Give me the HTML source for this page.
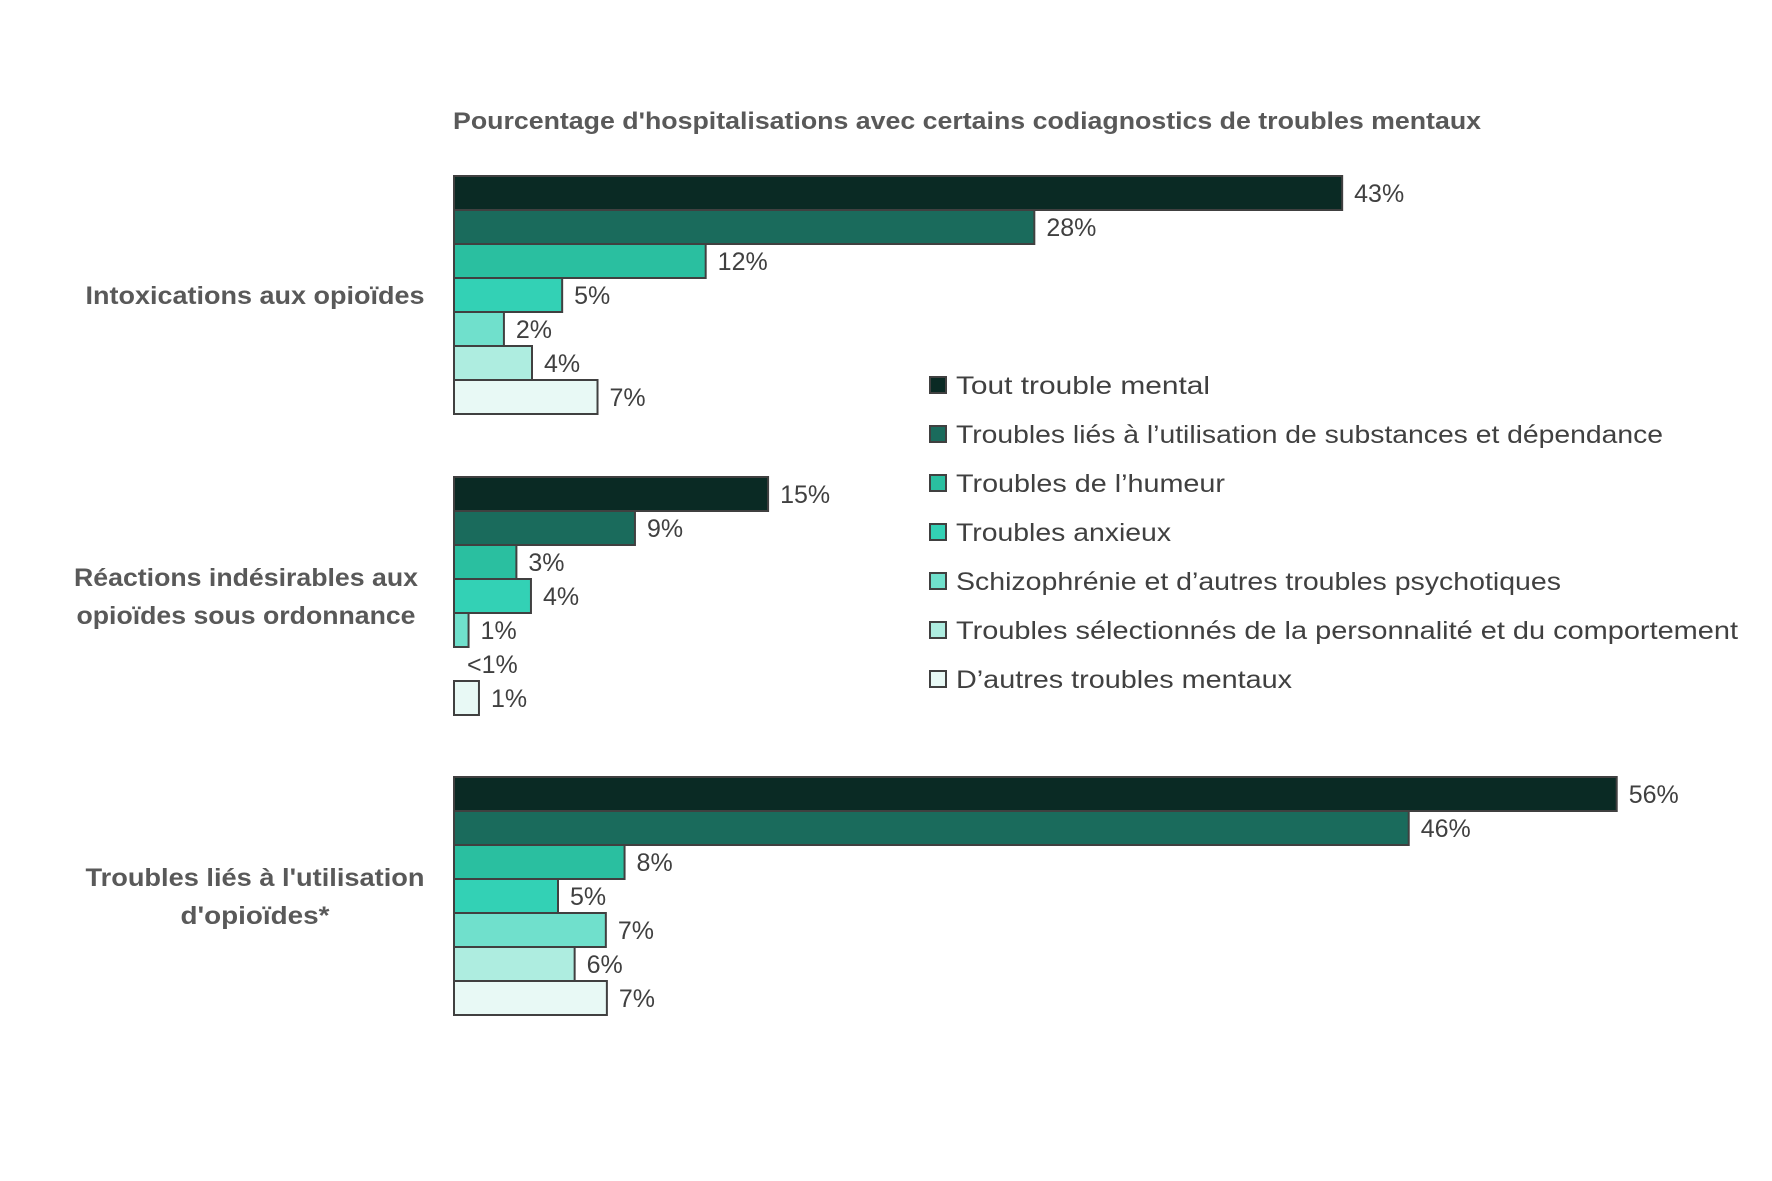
<!DOCTYPE html>
<html><head><meta charset="utf-8"><style>
body{margin:0;background:#fff}
svg{display:block;font-family:"Liberation Sans",sans-serif}
</style></head><body>
<svg id="chart" width="1772" height="1181" viewBox="0 0 1772 1181" xmlns="http://www.w3.org/2000/svg">
<rect width="1772" height="1181" fill="#fff"/>
<text x="453" y="129" font-size="24" font-weight="bold" fill="#595959" textLength="1028" lengthAdjust="spacingAndGlyphs">Pourcentage d'hospitalisations avec certains codiagnostics de troubles mentaux</text>
<g id="bars"></g>
<g id="cats"></g>
<g id="legend"></g>
</svg>
<script>
const categories = ["Intoxications aux opioïdes","Réactions indésirables aux opioïdes sous ordonnance","Troubles liés à l'utilisation d'opioïdes*"];
const seriesNames = ["Tout trouble mental","Troubles liés à l’utilisation de substances et dépendance","Troubles de l’humeur","Troubles anxieux","Schizophrénie et d’autres troubles psychotiques","Troubles sélectionnés de la personnalité et du comportement","D’autres troubles mentaux"];
const valuesIntox = [42.7, 27.9, 12.1, 5.2, 2.4, 3.75, 6.9];
const valuesReact = [15.1, 8.7, 3.0, 3.7, 0.7, 0, 1.2];
const valuesTroub = [55.9, 45.9, 8.2, 5.0, 7.3, 5.8, 7.35];
const labelsIntox = ["43%","28%","12%","5%","2%","4%","7%"];
const labelsReact = ["15%","9%","3%","4%","1%","<1%","1%"];
const labelsTroub = ["56%","46%","8%","5%","7%","6%","7%"];
const colors = ["#0a2a24","#1a6b5c","#2abfa0","#33d1b5","#70e0cc","#aeede0","#e8f9f5"];
const NS="http://www.w3.org/2000/svg";
const x0=454, pxPer=20.8, pitch=34, groupTops=[176,477,777];
const xScale=v=>x0+v*pxPer;
function mk(tag,attrs,parent){const e=document.createElementNS(NS,tag);for(const k in attrs)e.setAttribute(k,attrs[k]);parent.appendChild(e);return e;}
const bars=document.getElementById('bars');
const groups=[[valuesIntox,labelsIntox],[valuesReact,labelsReact],[valuesTroub,labelsTroub]];
groups.forEach(([vals,labs],g)=>{
  vals.forEach((v,i)=>{
    const y=groupTops[g]+i*pitch;
    const w=xScale(v)-x0;
    if(w>0){
      const r=mk('rect',{x:x0,y:y,width:w,height:pitch,fill:colors[i],stroke:"#404040","stroke-width":2},bars);
      
      
    }
    const lx = w>0 ? xScale(v)+12 : x0+13;
    const t=mk('text',{x:lx,y:y+pitch/2+9,"font-size":25,fill:"#404040"},bars);
    t.textContent=labs[i];
    
    
  });
});
const cats=document.getElementById('cats');
const catLines=[[["Intoxications aux opioïdes",339]],[["Réactions indésirables aux",344],["opioïdes sous ordonnance",339]],[["Troubles liés à l'utilisation",339],["d'opioïdes*",149]]];
const catCx=[255,246,255];
catLines.forEach((lines,g)=>{
  const cy=groupTops[g]+pitch*3.5;
  const startY=cy-(lines.length-1)*19;
  lines.forEach((ln,j)=>{
    const t=mk('text',{x:catCx[g],y:startY+j*38+9,"font-size":25,"font-weight":"bold",fill:"#595959","text-anchor":"middle",textLength:ln[1],lengthAdjust:"spacingAndGlyphs"},cats);
    t.textContent=ln[0];
    
    
  });
});
const legend=document.getElementById('legend');
const legW=[254,707,269,215,605,782,336];
seriesNames.forEach((n,i)=>{
  const y=377+i*49;
  const s=mk('rect',{x:930,y:y,width:16,height:16,fill:colors[i],stroke:"#404040","stroke-width":2},legend);
  
  
  const t=mk('text',{x:956,y:y+17,"font-size":25,fill:"#404040",textLength:legW[i],lengthAdjust:"spacingAndGlyphs"},legend);
  t.textContent=n;
  
  
});
</script>
</body></html>
